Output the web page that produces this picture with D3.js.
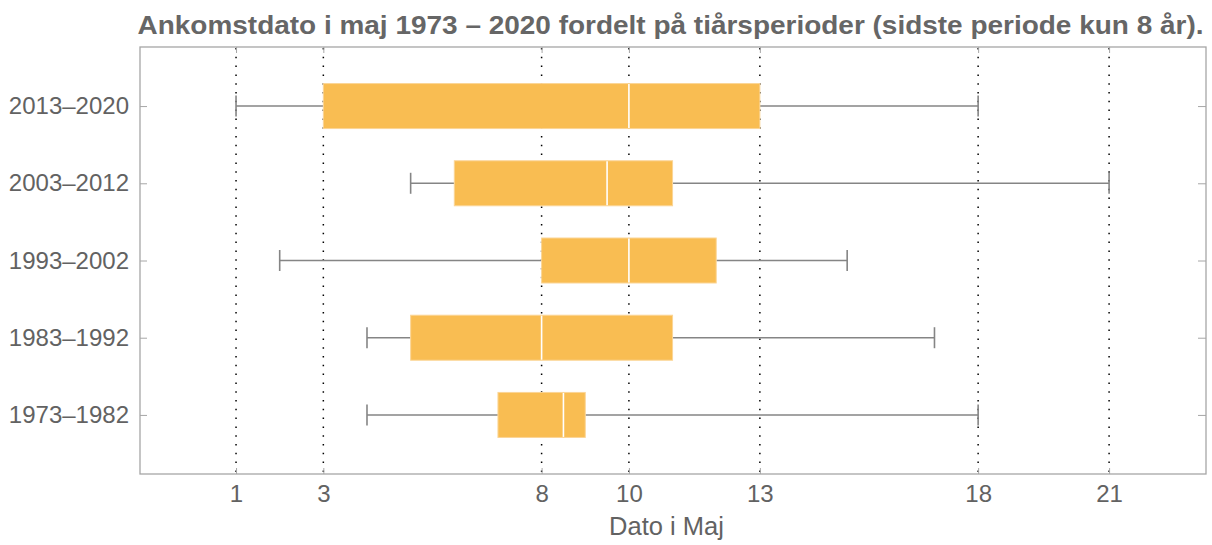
<!DOCTYPE html>
<html>
<head>
<meta charset="utf-8">
<script src="https://cdn.jsdelivr.net/npm/d3@7"></script>
<style>
  html, body { margin: 0; padding: 0; background: #fff; }
  svg { display: block; }
  text { font-family: "Liberation Sans", Arial, Helvetica, sans-serif; }
</style>
</head>
<body>
<svg id="chart" width="1212" height="545"></svg>
<script>
// ---- data ----
const categories = ["1973–1982", "1983–1992", "1993–2002", "2003–2012", "2013–2020"];
const whiskerMin = [4, 4, 2, 5, 1];
const q1 = [7, 5, 8, 6, 3];
const median = [8.5, 8, 10, 9.5, 10];
const q3 = [9, 11, 12, 11, 13];
const whiskerMax = [18, 17, 15, 21, 18];
const xTicks = [1, 3, 8, 10, 13, 18, 21];
const titleText = "Ankomstdato i maj 1973 – 2020 fordelt på tiårsperioder (sidste periode kun 8 år).";
const xLabel = "Dato i Maj";

// ---- layout ----
const svg = d3.select("#chart");
const pLeft = 140, pRight = 1206, pTop = 47, pBottom = 474;
const x = d3.scaleLinear().domain([-1.2, 23.22]).range([pLeft, pRight]);
const y = d3.scaleLinear().domain([0.235, 5.765]).range([pBottom, pTop]);
const boxH = 45, capH = 21;
const textColor = "#626262";

// gridlines (dotted)
svg.append("g").selectAll("line").data(xTicks).join("line")
  .attr("x1", d => x(d)).attr("x2", d => x(d))
  .attr("y1", pTop + 1).attr("y2", pBottom - 1)
  .attr("stroke", "#000").attr("stroke-width", 1.5)
  .attr("stroke-dasharray", "1.5 7.3");

const rows = categories.map((c, i) => ({
  c, pos: i + 1, lo: whiskerMin[i], q1: q1[i], med: median[i], q3: q3[i], hi: whiskerMax[i]
}));

const wg = svg.append("g").attr("stroke", "#858585").attr("stroke-width", 1.6);
// whiskers
wg.selectAll(".wl").data(rows).join("line").attr("class", "wl")
  .attr("x1", d => x(d.lo)).attr("x2", d => x(d.q1))
  .attr("y1", d => y(d.pos)).attr("y2", d => y(d.pos));
wg.selectAll(".wr").data(rows).join("line").attr("class", "wr")
  .attr("x1", d => x(d.q3)).attr("x2", d => x(d.hi))
  .attr("y1", d => y(d.pos)).attr("y2", d => y(d.pos));
// caps
wg.selectAll(".cl").data(rows).join("line").attr("class", "cl")
  .attr("x1", d => x(d.lo)).attr("x2", d => x(d.lo))
  .attr("y1", d => y(d.pos) - capH / 2).attr("y2", d => y(d.pos) + capH / 2);
wg.selectAll(".cr").data(rows).join("line").attr("class", "cr")
  .attr("x1", d => x(d.hi)).attr("x2", d => x(d.hi))
  .attr("y1", d => y(d.pos) - capH / 2).attr("y2", d => y(d.pos) + capH / 2);

// boxes
svg.append("g").selectAll("rect").data(rows).join("rect")
  .attr("x", d => x(d.q1)).attr("width", d => x(d.q3) - x(d.q1))
  .attr("y", d => y(d.pos) - boxH / 2).attr("height", boxH)
  .attr("fill", "#F9BD52").attr("stroke", "#FBD596").attr("stroke-width", 1);
// medians
svg.append("g").selectAll("line").data(rows).join("line")
  .attr("x1", d => x(d.med)).attr("x2", d => x(d.med))
  .attr("y1", d => y(d.pos) - boxH / 2 + 0.5).attr("y2", d => y(d.pos) + boxH / 2 - 0.5)
  .attr("stroke", "#fff").attr("stroke-width", 1.6);

// frame
svg.append("rect").attr("x", pLeft).attr("y", pTop)
  .attr("width", pRight - pLeft).attr("height", pBottom - pTop)
  .attr("fill", "none").attr("stroke", "#a6a6a6").attr("stroke-width", 1.3);

// axes
const xAxisB = d3.axisBottom(x).tickValues(xTicks).tickSize(-6).tickPadding(11).tickFormat(d3.format("d"));
const gx = svg.append("g").attr("transform", `translate(0,${pBottom})`).call(xAxisB);
gx.select(".domain").remove();
gx.selectAll(".tick line").attr("stroke", "#a6a6a6");
gx.selectAll(".tick text").attr("fill", textColor).attr("font-size", 24)
  .attr("font-family", "Liberation Sans, Arial, sans-serif");

const xAxisT = d3.axisTop(x).tickValues(xTicks).tickSize(-6).tickFormat("");
const gxt = svg.append("g").attr("transform", `translate(0,${pTop})`).call(xAxisT);
gxt.select(".domain").remove();
gxt.selectAll(".tick line").attr("stroke", "#a6a6a6");

const yVals = rows.map(d => d.pos);
const yAxisL = d3.axisLeft(y).tickValues(yVals).tickSize(-7).tickPadding(11)
  .tickFormat(d => categories[d - 1]);
const gy = svg.append("g").attr("transform", `translate(${pLeft},0)`).call(yAxisL);
gy.select(".domain").remove();
gy.selectAll(".tick line").attr("stroke", "#a6a6a6");
gy.selectAll(".tick text").attr("fill", textColor).attr("font-size", 24)
  .attr("font-family", "Liberation Sans, Arial, sans-serif");

const yAxisR = d3.axisRight(y).tickValues(yVals).tickSize(-8).tickFormat("");
const gyr = svg.append("g").attr("transform", `translate(${pRight},0)`).call(yAxisR);
gyr.select(".domain").remove();
gyr.selectAll(".tick line").attr("stroke", "#a6a6a6");

// axis label
svg.append("text").attr("x", 666.5).attr("y", 535).attr("text-anchor", "middle")
  .attr("fill", textColor).attr("font-size", 25.5).text(xLabel);

// title
svg.append("text").attr("x", 670.5).attr("y", 33.5).attr("text-anchor", "middle")
  .attr("fill", "#666666").attr("font-size", 25).attr("font-weight", "bold")
  .attr("textLength", 1066).attr("lengthAdjust", "spacingAndGlyphs")
  .text(titleText);
</script>
</body>
</html>
